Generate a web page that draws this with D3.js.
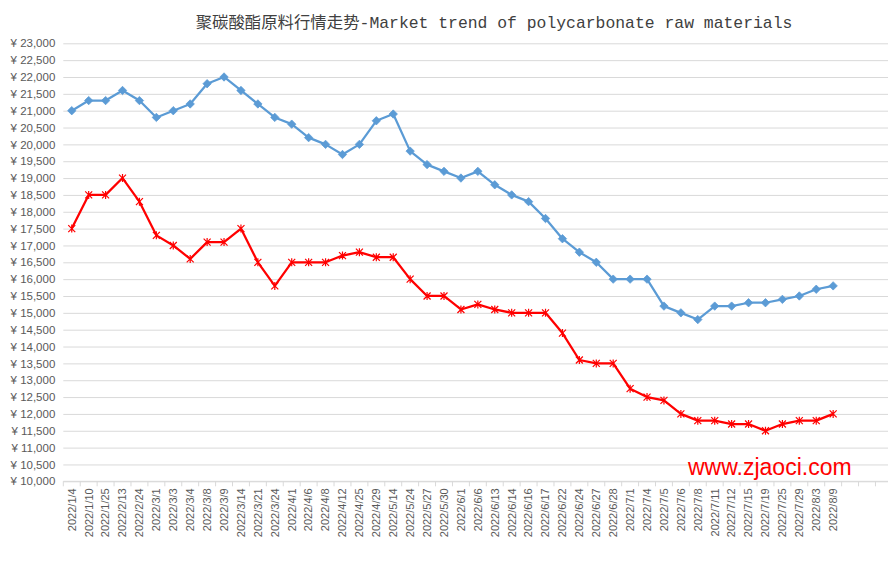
<!DOCTYPE html>
<html>
<head>
<meta charset="utf-8">
<title>polycarbonate trend</title>
<script src="https://cdn.jsdelivr.net/npm/d3@7"></script>
<style>
  body { margin: 0; background: #fff; }
  svg { display: block; }
  .y-ax text, .x-ax text { font-family: "Liberation Sans", Arial, sans-serif; fill: #595959; }
</style>
</head>
<body>
<div id="container"></div>
<script>
// data
var dates = ["2022/1/4","2022/1/10","2022/1/25","2022/2/13","2022/2/24","2022/3/1","2022/3/3","2022/3/4",
  "2022/3/8","2022/3/9","2022/3/14","2022/3/21","2022/3/24","2022/4/1","2022/4/6","2022/4/8","2022/4/12",
  "2022/4/25","2022/4/29","2022/5/14","2022/5/24","2022/5/27","2022/5/30","2022/6/1","2022/6/6","2022/6/13",
  "2022/6/14","2022/6/16","2022/6/17","2022/6/22","2022/6/24","2022/6/27","2022/6/28","2022/7/1","2022/7/4",
  "2022/7/5","2022/7/6","2022/7/8","2022/7/11","2022/7/12","2022/7/15","2022/7/19","2022/7/25","2022/7/29",
  "2022/8/3","2022/8/9"];
var emptySlots = 3;

var bluePrices = [21000,21300,21300,21600,21300,20800,21000,21200,21800,22000,21600,21200,20800,20600,20200,
  20000,19700,20000,20700,20900,19800,19400,19200,19000,19200,18800,18500,18300,17800,17200,16800,16500,
  16000,16000,16000,15200,15000,14800,15200,15200,15300,15300,15400,15500,15700,15800];

var redPrices = [17500,18500,18500,19000,18300,17300,17000,16600,17100,17100,17500,16500,15800,16500,16500,
  16500,16700,16800,16650,16650,16000,15500,15500,15100,15250,15100,15000,15000,15000,14400,13600,13500,
  13500,12750,12500,12400,12000,11800,11800,11700,11700,11500,11700,11800,11800,12000];

var yTicks = d3.range(10000, 23001, 500);
var titleText = "聚碳酸酯原料行情走势-Market trend of polycarbonate raw materials";
var watermark = "www.zjaoci.com";

var W = 888, H = 569;
var plotLeft = 63.3, step = 16.92, plotTop = 43.3, plotBottom = 481.3;
var nSlots = dates.length + emptySlots;

var svg = d3.select("#container").append("svg")
    .attr("width", W)
    .attr("height", H);

var xScale = d3.scaleBand().domain(d3.range(nSlots)).range([plotLeft, plotLeft + step * nSlots]);
var yScale = d3.scaleLinear().domain([10000, 23000]).range([plotBottom, plotTop]);

// y axis + gridlines
var yAxis = d3.axisLeft(yScale)
    .tickValues(yTicks)
    .tickFormat(function(d){ return "¥ " + d3.format(",")(d); })
    .tickSizeInner(-(W - plotLeft + 10))
    .tickSizeOuter(0)
    .tickPadding(8);

svg.append("g")
    .attr("class", "y-ax")
    .attr("transform", "translate(" + plotLeft + ",0)")
    .call(yAxis);
svg.selectAll(".y-ax .domain").remove();
svg.selectAll(".y-ax .tick line").attr("stroke", "#d9d9d9").attr("stroke-width", 1);
svg.selectAll(".y-ax .tick text").attr("font-size", "11.5px");

// x axis labels
var xAxis = d3.axisBottom(xScale)
    .tickSize(0)
    .tickFormat(function(i){ return dates[i] || ""; });

var gx = svg.append("g")
    .attr("class", "x-ax")
    .attr("transform", "translate(0," + plotBottom + ")")
    .call(xAxis);
gx.select(".domain").remove();
gx.selectAll("text")
    .attr("font-size", "11px")
    .attr("text-anchor", "end")
    .attr("transform", "rotate(-90)")
    .attr("x", -7)
    .attr("y", 0)
    .attr("dy", "0.35em");

// axis line and boundary ticks
svg.append("line")
    .attr("x1", plotLeft).attr("x2", W + 10)
    .attr("y1", plotBottom).attr("y2", plotBottom)
    .attr("stroke", "#d9d9d9");
svg.append("g").selectAll("line")
    .data(d3.range(nSlots + 1))
    .enter().append("line")
    .attr("x1", function(i){ return plotLeft + i * xScale.step(); })
    .attr("x2", function(i){ return plotLeft + i * xScale.step(); })
    .attr("y1", plotBottom).attr("y2", plotBottom + 5)
    .attr("stroke", "#d9d9d9");

// series
var cx = function(d, i){ return xScale(i) + xScale.bandwidth() / 2; };
var line = d3.line().x(cx).y(function(d){ return yScale(d); });

svg.append("path")
    .datum(bluePrices)
    .attr("d", line)
    .attr("fill", "none")
    .attr("stroke", "#5B9BD5")
    .attr("stroke-width", 2.25)
    .attr("stroke-linejoin", "round");

svg.append("g").selectAll("path")
    .data(bluePrices)
    .enter().append("path")
    .attr("d", "M0,-4.2L4.2,0L0,4.2L-4.2,0Z")
    .attr("fill", "#5B9BD5")
    .attr("stroke", "#5B9BD5")
    .attr("stroke-width", 0.75)
    .attr("transform", function(d, i){ return "translate(" + cx(d, i) + "," + yScale(d) + ")"; });

svg.append("path")
    .datum(redPrices)
    .attr("d", line)
    .attr("fill", "none")
    .attr("stroke", "#FF0000")
    .attr("stroke-width", 2.25)
    .attr("stroke-linejoin", "round");

// star marker: an x with a vertical bar
var star = "M-3.5,-3.5L3.5,3.5M-3.5,3.5L3.5,-3.5M0,-4L0,4";
svg.append("g").selectAll("path")
    .data(redPrices)
    .enter().append("path")
    .attr("d", star)
    .attr("fill", "none")
    .attr("stroke", "#FF0000")
    .attr("stroke-width", 1.2)
    .attr("transform", function(d, i){ return "translate(" + cx(d, i) + "," + yScale(d) + ")"; });

// title
svg.append("text")
    .text(titleText)
    .attr("x", 494)
    .attr("y", 28)
    .attr("text-anchor", "middle")
    .attr("font-family", "'Liberation Mono', 'Noto Sans CJK SC', monospace")
    .attr("font-size", "16.4px")
    .attr("fill", "#404040");

// watermark
svg.append("text")
    .text(watermark)
    .attr("x", 688)
    .attr("y", 475)
    .attr("font-family", "'Liberation Sans', Arial, sans-serif")
    .attr("font-size", "23px")
    .attr("fill", "#FF0000");
</script>
</body>
</html>
